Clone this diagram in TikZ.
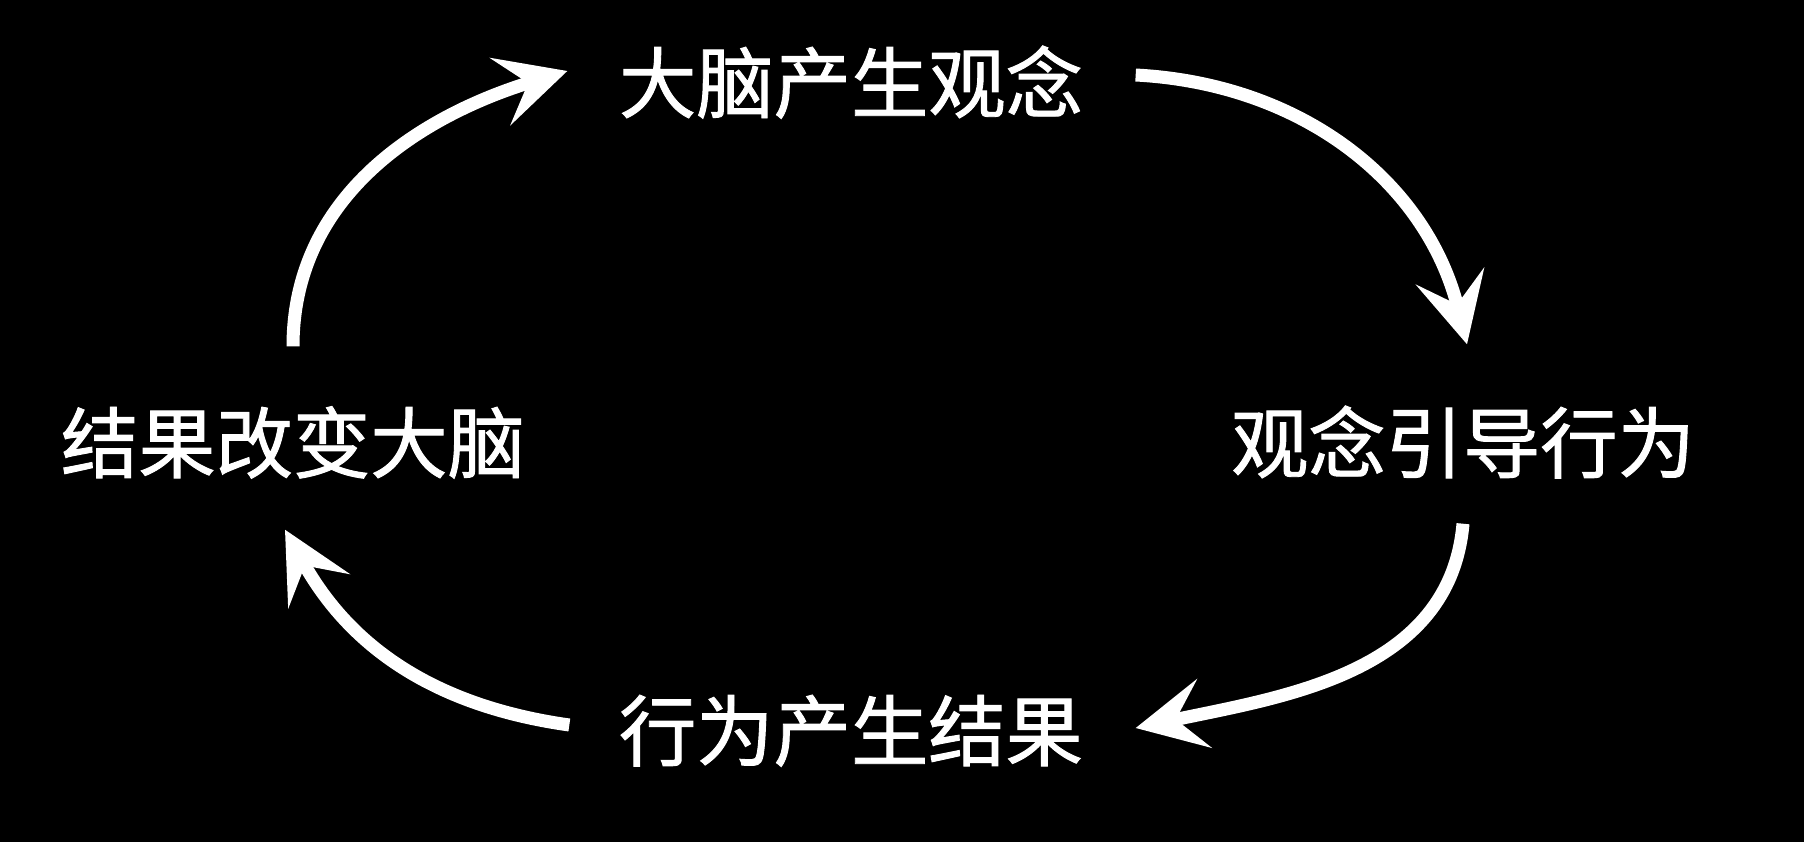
\documentclass[tikz,border=0pt]{standalone}
\usepackage{fontspec}
\newfontfamily\cjk[FakeBold=1.2]{Noto Sans CJK SC}
\usetikzlibrary{arrows.meta}

\begin{document}
\begin{tikzpicture}[
    >={Stealth[length=7mm, width=7mm, inset=2.9mm]},
    phrase/.style={white, inner sep=0pt, text height=0.65cm, text depth=0.07cm,
        font=\cjk\fontsize{22}{26}\selectfont},
    loop arrow/.style={->, white, line width=3.7pt}
]
    % ===== background =====
    \fill[black] (0,0) rectangle (18.04,8.42);

    % ===== the four steps =====
    \node[phrase] (idea)   at (8.51, 7.59) {大脑产生观念};
    \node[phrase] (act)    at (14.63, 3.99) {观念引导行为};
    \node[phrase] (result) at (8.51, 1.11) {行为产生结果};
    \node[phrase] (brain)  at (2.93, 3.99) {结果改变大脑};

    % ===== the cycle =====
    \draw[loop arrow] ([yshift=6mm]brain.north)
        to[out=90, in=197] ([xshift=-5.1mm, yshift=1.2mm]idea.west);
    \draw[loop arrow] ([xshift=5.2mm, yshift=0.8mm]idea.east)
        to[out=-3, in=104] ([xshift=0.4mm, yshift=6.2mm]act.north);
    \draw[loop arrow] ([yshift=-4.4mm]act.south)
        to[out=-95, in=12] ([xshift=5.2mm, yshift=0.3mm]result.east);
    \draw[loop arrow] ([xshift=-4.9mm, yshift=0.6mm]result.west)
        to[out=172, in=-61] ([xshift=-0.8mm, yshift=-5mm]brain.south);
\end{tikzpicture}
\end{document}
